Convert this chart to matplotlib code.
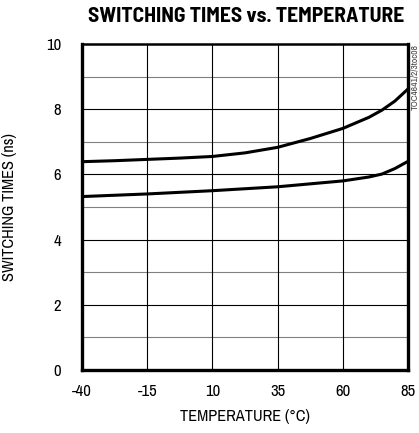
import matplotlib
matplotlib.use("Agg")
from matplotlib import pyplot as plt
from matplotlib import font_manager

# data
temp_upper = [-40, -27.5, -15, -2.5, 10, 22.5, 35, 47.5, 60, 70, 75, 80, 85]
time_upper = [6.39, 6.42, 6.46, 6.50, 6.55, 6.66, 6.83, 7.10, 7.41, 7.75, 7.97, 8.25, 8.62]
temp_lower = [-40, -15, 10, 35, 60, 70, 75, 80, 85]
time_lower = [5.32, 5.40, 5.50, 5.62, 5.80, 5.92, 6.01, 6.18, 6.40]

x_ticks = [-40, -15, 10, 35, 60, 85]
y_ticks = [0, 2, 4, 6, 8, 10]

# narrow faces if present, like the original's condensed helvetica
names = {f.name for f in font_manager.fontManager.ttflist}
body_font = "Archivo Narrow" if "Archivo Narrow" in names else "DejaVu Sans"
title_font = "Barlow Semi Condensed" if "Barlow Semi Condensed" in names else "DejaVu Sans"

plt.rcParams["font.family"] = [body_font, "DejaVu Sans"]
plt.rcParams["axes.unicode_minus"] = False

fig = plt.figure(figsize=(4.19, 4.33), dpi=100)
ax = fig.add_axes([0.1957, 0.1455, 0.778, 0.7529])

# grid: black at majors, grey at odd values
for y in range(1, 10):
    ax.axhline(y, color="black" if y % 2 == 0 else "#808080", linewidth=0.8, zorder=1)
for x in x_ticks[1:-1]:
    ax.axvline(x, color="black", linewidth=0.8, zorder=1)

ax.plot(temp_upper, time_upper, color="black", linewidth=2.2, zorder=3)
ax.plot(temp_lower, time_lower, color="black", linewidth=2.2, zorder=3)

ax.set_xlim(-40, 85)
ax.set_ylim(0, 10)
ax.set_xticks(x_ticks)
ax.set_yticks(y_ticks)
ax.tick_params(length=0, labelsize=12)
ax.tick_params(axis="y", pad=15)
ax.tick_params(axis="x", pad=10)
for side in ["left", "bottom", "right"]:
    ax.spines[side].set_linewidth(2.4)
ax.spines["top"].set_linewidth(1.8)

ax.set_xlabel("TEMPERATURE (°C)", fontsize=11.8)
ax.set_ylabel("SWITCHING TIMES (ns)", fontsize=11.8)
ax.xaxis.set_label_coords(0.5, -0.12)
ax.yaxis.set_label_coords(-0.2, 0.5)

fig.text(0.587, 0.961, "SWITCHING TIMES vs. TEMPERATURE", ha="center", va="center",
         fontsize=15.5, fontweight="bold", family=[title_font, "DejaVu Sans"])
fig.text(0.989, 0.898, "TOC4641/2/3toc08", rotation=90, ha="center", va="top",
         fontsize=6.8, color="#444444")

fig.savefig("out.png", dpi=100)
